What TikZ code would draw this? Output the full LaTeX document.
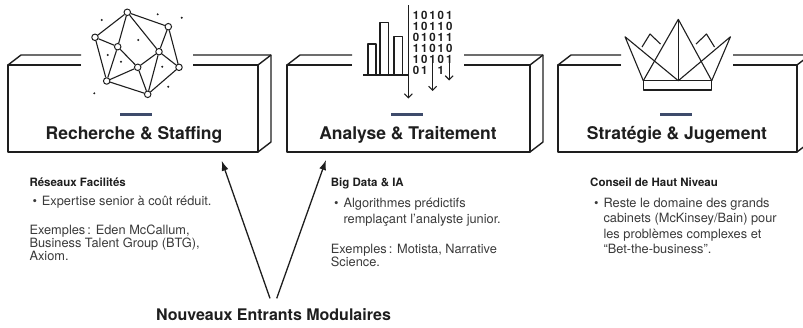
\documentclass[tikz,border=0pt]{standalone}
\usepackage{fontspec}
\setmainfont{TeX Gyre Heros}
\usetikzlibrary{arrows.meta}

\definecolor{ink}{HTML}{1E1E1E}
\definecolor{graytext}{HTML}{3A3A3A}
\definecolor{dashblue}{HTML}{3E4B6B}

\begin{document}
\begin{tikzpicture}[x=1pt,y=-1pt,line join=round,
    slab/.style={draw=ink,line width=1.4pt},
    icon/.style={draw=ink,line width=1.1pt},
    hub/.style={circle,draw=ink,fill=white,line width=1pt,inner sep=0pt,minimum size=6.5pt},
    title/.style={anchor=base,inner sep=0pt,text=ink,font=\bfseries\fontsize{17.5}{20}\selectfont},
    head/.style={anchor=base west,inner sep=0pt,text=ink,font=\bfseries\fontsize{11.5}{14}\selectfont},
    body/.style={anchor=base west,inner sep=0pt,align=left,text=graytext,font=\fontsize{12.8}{15.4}\selectfont},
    example/.style={body,font=\fontsize{12.8}{13.3}\selectfont},
    bit/.style={inner sep=0pt,text=ink,font=\bfseries\fontsize{11.5}{11.5}\selectfont},
    flow/.style={icon,-{Straight Barb[length=4pt,width=8pt]}},
    entry/.style={draw=ink,line width=1.3pt,-{Latex[length=10pt,width=7pt]}}]

  \useasboundingbox (0,0) rectangle (803,327);
  \clip (0,0) rectangle (803,327);

  % the three slabs, top edges cut open where the icon sits
  \foreach \l/\r/\c in {8/258/137, 287/530/408, 558/797/677} {
    \draw[slab] (\c-56,65) -- (\l,65) -- (\l,152) -- (\r,152) -- (\r,65) -- (\c+56,65);
    \draw[slab] (\c-56,55) -- (\l+13,55) -- (\l,65);
    \draw[slab] (\c+56,55) -- (\r+13,55) -- (\r+13,142) -- (\r,152);
    \draw[slab] (\r,65) -- (\r+13,55);
    \draw[dashblue,line width=2.5pt] (\c-17,114.5) -- (\c+15,114.5);
  }

  \node[title] (research) at (134,139) {Recherche \& Staffing};
  \node[title] (analysis) at (408,139) {Analyse \& Traitement};
  \node[title] (strategy) at (677,139) {Stratégie \& Jugement};

  % network icon
  \node[hub] (n1) at (127.3,12.3) {};
  \node[hub] (n2) at (168.3,26.7) {};
  \node[hub] (n3) at (95,37.3) {};
  \node[hub] (n4) at (117.7,46.7) {};
  \node[hub] (n5) at (159,51.7) {};
  \node[hub] (n6) at (137.7,67.3) {};
  \node[hub] (n7) at (179,67.3) {};
  \node[hub] (n8) at (106.7,81) {};
  \node[hub] (n9) at (147.7,94.3) {};
  \foreach \a/\b in {n1/n2,n1/n3,n1/n4,n1/n5,n2/n5,n2/n7,n3/n4,n3/n8,n4/n8,
                     n4/n6,n5/n6,n5/n7,n5/n9,n6/n8,n6/n9,n7/n9,n8/n9}
    \draw[icon] (\a) -- (\b);
  \foreach \p in {(101.7,20),(157.7,14.3),(181.7,17.7),(138.3,40),(107.7,55),
                  (121,61.7),(162.3,66.7),(168.3,86.7),(94.3,93.3)}
    \fill[ink] \p circle (1.1);

  % bar chart and bit stream
  \draw[icon] (368,75) rectangle (376,44);
  \draw[icon] (380,75) rectangle (388.5,22.3);
  \draw[icon] (394,75) rectangle (402.5,36.7);
  \draw[icon] (363,75) -- (408.3,75);
  \draw[flow] (408.3,5) -- (408.3,98.5);
  \foreach \row [count=\j] in {{1,0,1,0,1},{1,0,1,1,0},{0,1,0,1,1},{1,1,0,1,0},{1,0,1,0,1},{0,1,,1,}}
    \foreach \d [count=\i] in \row
      \node[bit] (b\j\i) at (416+8.3*\i-8.3,4+11*\j) {\d};
  \draw[flow] (432.6,63) -- (432.6,91);
  \draw[flow] (449.2,63) -- (449.2,80.5);

  % crown
  \draw[icon] (643.3,80.7) rectangle (711.7,90);
  \draw[icon] (678.3,19.3) -- (678.3,80.7);
  \draw[icon] (643.3,80.7) -- (678.3,19.3) -- (711.7,80.7);
  \draw[icon] (643.3,80.7) -- (625,36.7) -- (678.3,80.7) -- (730.5,36.7) -- (711.7,80.7);
  \draw[icon] (642,47) -- (650,34) -- (660.5,44);
  \draw[icon] (714.5,47) -- (706.5,34) -- (696,44);

  % notes under each slab (base sits on the last line)
  \node[head] (netsHead) at (29.3,186.7) {Réseaux Facilités};
  \node[body] (netsDot) at (32.5,205.7) {\textbullet};
  \node[body] (netsText) at (41.7,205.7) {Expertise senior à coût réduit.};
  \node[example] (netsEx) at (29.3,260.7) {Exemples\,: Eden McCallum,\\Business Talent Group (BTG),\\Axiom.};

  \node[head] (dataHead) at (330.7,186.7) {Big Data \& IA};
  \node[body] (dataDot) at (334,207.3) {\textbullet};
  \node[body] (dataText) at (343.3,223) {Algorithmes prédictifs\\remplaçant l'analyste junior.};
  \node[example] (dataEx) at (330.7,266.7) {Exemples\,: Motista, Narrative\\Science.};

  \node[head] (adviceHead) at (590,186.7) {Conseil de Haut Niveau};
  \node[body] (adviceDot) at (594,207.3) {\textbullet};
  \node[body] (adviceText) at (603.3,253.5) {Reste le domaine des grands\\cabinets (McKinsey/Bain) pour\\les problèmes complexes et\\“Bet-the-business”.};

  % new entrants pointing at the first two slabs
  \node[anchor=base,inner sep=0pt,text=ink,font=\bfseries\fontsize{16}{18}\selectfont]
    (entrants) at (273.5,320.5) {Nouveaux Entrants Modulaires};
  \coordinate (tipA) at (221.7,160.7);
  \coordinate (tipB) at (326,160);
  \draw[entry] ([xshift=-3.5pt,yshift=10pt]entrants.north) -- (tipA);
  \draw[entry] ([xshift=3.2pt,yshift=10pt]entrants.north) -- (tipB);
\end{tikzpicture}
\end{document}
